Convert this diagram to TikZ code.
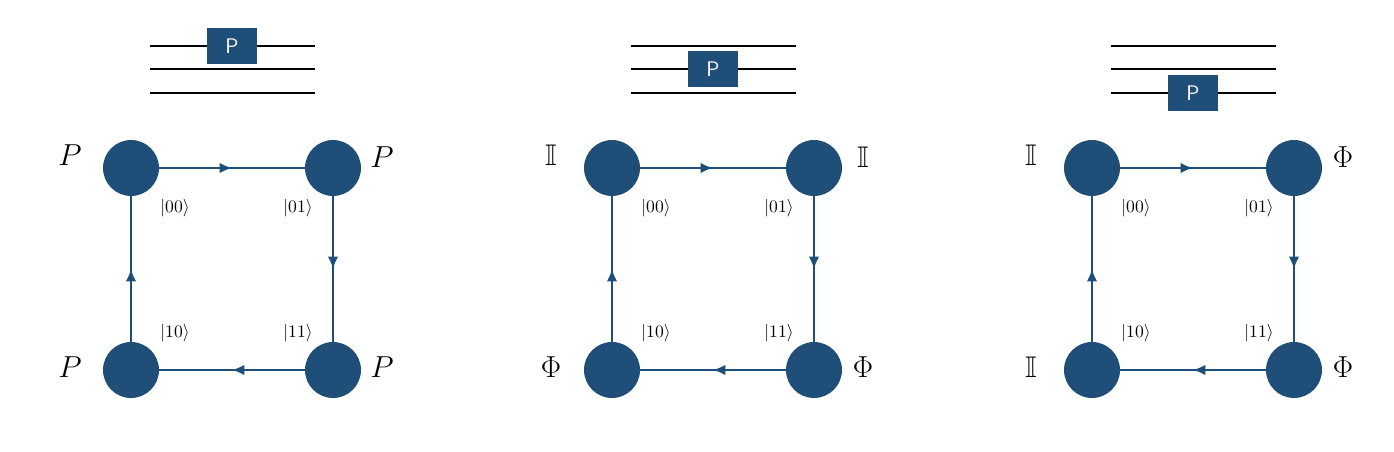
\documentclass[tikz,border=0pt]{standalone}
\usepackage{amssymb}
\usetikzlibrary{decorations.markings,arrows.meta}
\definecolor{qblue}{HTML}{1F4E79}
\begin{document}
\begin{tikzpicture}[x=0.02cm, y=-0.02cm,
    state/.style={circle, fill=qblue, minimum size=1.12cm, inner sep=0pt},
    flow/.style={qblue, line width=1.2pt, postaction={decorate},
      decoration={markings, mark=at position 0.5 with {\arrow{Latex[length=7pt,width=6pt]}}}},
    wire/.style={line width=1.6pt},
    gate/.style={fill=qblue, text=white, font=\sffamily\large, minimum width=1cm, minimum height=0.72cm, inner sep=0pt},
    ket/.style={font=\normalsize},
    op/.style={font=\fontsize{17}{20}\selectfont}]
    \useasboundingbox (0,0) rectangle (1394,452);
    % Three panels: x offset, gate wire, operators
    \foreach \x/\w/\opa/\opb/\opc/\opd [count=\k] in
        {0/46/P/P/P/P, 481/69/\mathbb{I}/\mathbb{I}/\Phi/\Phi, 961/93/\mathbb{I}/\Phi/\mathbb{I}/\Phi} {
        \begin{scope}[xshift=\x*0.02cm]
            % Circuit wires
            \foreach \y in {46,69,93}
                \draw[wire] (150,\y) -- (315,\y);
            \node[gate] (g\k) at (232,\w) {P};
            % States
            \node[state] (s\k00) at (131,168) {};
            \node[state] (s\k01) at (333,168) {};
            \node[state] (s\k10) at (131,370) {};
            \node[state] (s\k11) at (333,370) {};
            % Connections
            \draw[flow] (s\k00) -- (s\k01);
            \draw[flow] (s\k01) -- (s\k11);
            \draw[flow] (s\k11) -- (s\k10);
            \draw[flow] (s\k10) -- (s\k00);
            % Kets
            \node[ket] (k\k00) at (175,208) {$|00\rangle$};
            \node[ket] (k\k01) at (298,208) {$|01\rangle$};
            \node[ket] (k\k10) at (175,333) {$|10\rangle$};
            \node[ket] (k\k11) at (298,333) {$|11\rangle$};
            % Operators
            \node[op] (o\k00) at (70,155) {$\opa$};
            \node[op] (o\k01) at (382,157) {$\opb$};
            \node[op] (o\k10) at (70,367) {$\opc$};
            \node[op] (o\k11) at (382,367) {$\opd$};
        \end{scope}
    }
\end{tikzpicture}
\end{document}
